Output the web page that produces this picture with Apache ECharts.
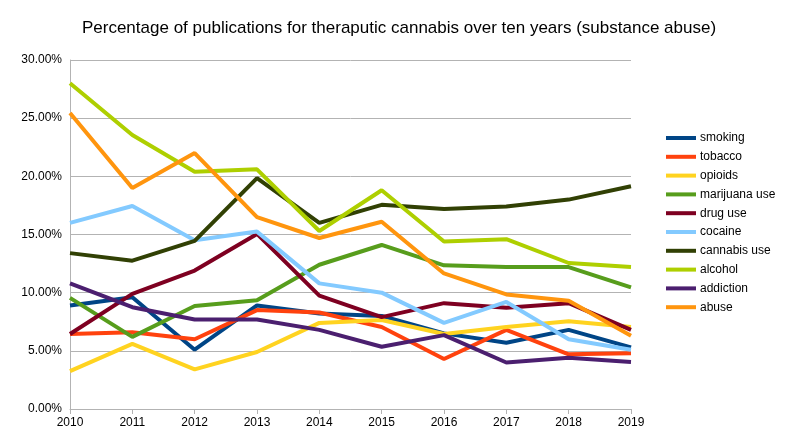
<!DOCTYPE html>
<html><head><meta charset="utf-8">
<script src="https://cdn.jsdelivr.net/npm/echarts@6/dist/echarts.min.js"></script>
<style>html,body{margin:0;padding:0;background:#fff}#c{width:794px;height:443px}</style>
</head><body><div id="c"></div>
<script>
const years = ['2010','2011','2012','2013','2014','2015','2016','2017','2018','2019'];
const smoking     = [8.9, 9.6, 5.1, 8.9, 8.2, 8.0, 6.5, 5.7, 6.8, 5.3];
const tobacco     = [6.45, 6.6, 6.0, 8.5, 8.3, 7.05, 4.3, 6.8, 4.7, 4.8];
const opioids     = [3.25, 5.6, 3.4, 4.9, 7.4, 7.65, 6.45, 7.05, 7.55, 7.05];
const marijuana   = [9.55, 6.2, 8.85, 9.35, 12.4, 14.1, 12.35, 12.2, 12.2, 10.45];
const drugUse     = [6.45, 9.9, 11.9, 15.05, 9.75, 7.9, 9.1, 8.7, 9.1, 6.8];
const cocaine     = [16.0, 17.45, 14.5, 15.25, 10.8, 10.0, 7.4, 9.2, 6.0, 5.1];
const cannabisUse = [13.4, 12.75, 14.45, 19.85, 16.0, 17.55, 17.2, 17.4, 18.0, 19.15];
const alcohol     = [28.0, 23.55, 20.4, 20.6, 15.3, 18.8, 14.4, 14.6, 12.55, 12.2];
const addiction   = [10.8, 8.75, 7.7, 7.7, 6.8, 5.35, 6.35, 4.0, 4.4, 4.05];
const abuse       = [25.45, 19.0, 22.0, 16.5, 14.7, 16.1, 11.65, 9.85, 9.3, 6.3];
const yTicks = [0, 5, 10, 15, 20, 25, 30];

const seriesDefs = [
  ['smoking', smoking, '#004586'],
  ['tobacco', tobacco, '#ff420e'],
  ['opioids', opioids, '#ffd320'],
  ['marijuana use', marijuana, '#579d1c'],
  ['drug use', drugUse, '#7e0021'],
  ['cocaine', cocaine, '#83caff'],
  ['cannabis use', cannabisUse, '#314004'],
  ['alcohol', alcohol, '#aecf00'],
  ['addiction', addiction, '#4b1f6f'],
  ['abuse', abuse, '#ff950e']
];

const chart = echarts.init(document.getElementById('c'));
chart.setOption({
  animation: false,
  textStyle: { fontFamily: 'Liberation Sans' },
  title: {
    text: 'Percentage of publications for theraputic cannabis over ten years (substance abuse)',
    left: 394, top: 15, textAlign: 'center',
    textStyle: { fontSize: 17, fontWeight: 'normal', color: '#000', fontFamily: 'Liberation Sans' }
  },
  legend: {
    orient: 'vertical', left: 666, top: 132, padding: 0,
    itemWidth: 30, itemHeight: 4, itemGap: 6.8, icon: 'rect',
    textStyle: { fontSize: 12, color: '#000', padding: [0, 0, 0, -1] },
    data: seriesDefs.map(d => d[0])
  },
  grid: { left: 70, right: 163, top: 60, bottom: 34, containLabel: false },
  xAxis: {
    type: 'category', data: years, boundaryGap: false,
    axisLine: { lineStyle: { color: '#b3b3b3' } },
    axisTick: { show: true, length: 5, lineStyle: { color: '#b3b3b3' } },
    axisLabel: { color: '#000', fontSize: 12, margin: 8 },
    splitLine: { show: false }
  },
  yAxis: {
    type: 'value', min: 0, max: 30, interval: 5,
    axisLine: { show: true, lineStyle: { color: '#b3b3b3' } },
    axisTick: { show: false },
    axisLabel: { color: '#000', fontSize: 12, margin: 8, formatter: v => v.toFixed(2) + '%' },
    splitLine: { lineStyle: { color: '#b3b3b3' } }
  },
  series: seriesDefs.map(d => ({
    name: d[0], type: 'line', data: d[1], color: d[2],
    symbol: 'none', lineStyle: { width: 4, color: d[2] }
  }))
});
</script></body></html>
